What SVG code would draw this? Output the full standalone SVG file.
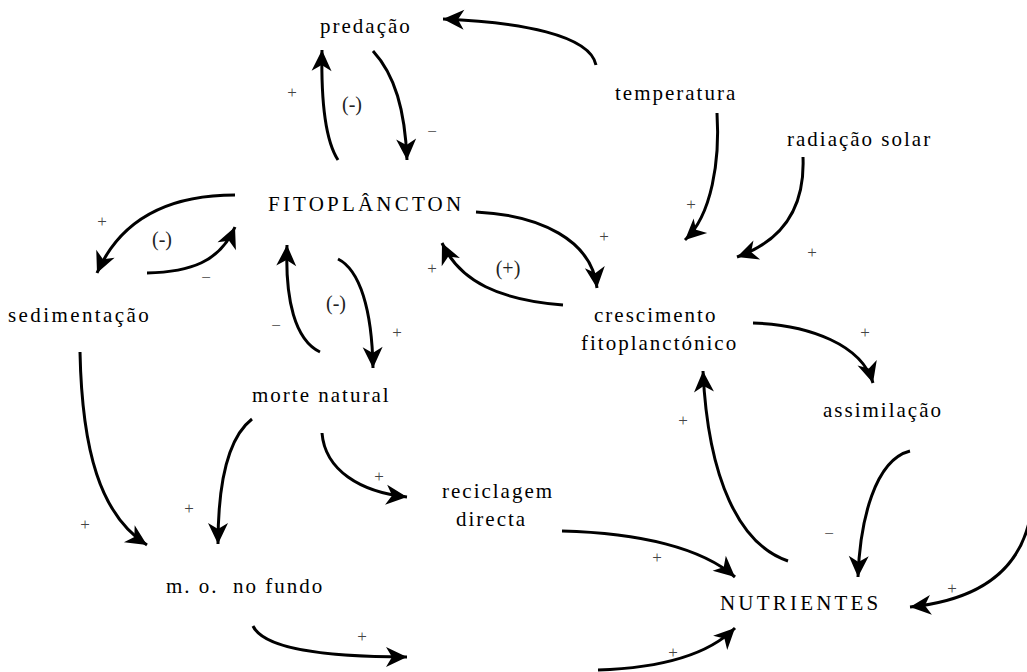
<svg xmlns="http://www.w3.org/2000/svg" width="1027" height="672" viewBox="0 0 1027 672">
<defs>
<marker id="ah" markerUnits="userSpaceOnUse" markerWidth="28" markerHeight="24" viewBox="-24 -12 28 24" refX="0" refY="0" orient="auto">
<path d="M0,0 L-21,-10 L-15,0 L-21,10 Z" fill="#000"/>
</marker>
</defs>
<style>
text{font-family:'Liberation Serif','DejaVu Serif',serif}
.n{font-size:21px;letter-spacing:2px;fill:#000;white-space:pre}
.u{letter-spacing:3.2px}
.l{font-size:17px;fill:#444}
.p{font-size:20px;fill:#222}
.c{fill:none;stroke:#000;stroke-width:3;marker-end:url(#ah)}
</style>
<rect width="1027" height="672" fill="#fff"/>
<g id="connectors">
<path class="c" d="M596,65 C590,35 520,22 443,19"/>
<path class="c" d="M338,160 C325,140 321,100 322,50"/>
<path class="c" d="M373,51 C395,75 405,110 407,160"/>
<path class="c" d="M717,113 C720,160 712,215 685,240"/>
<path class="c" d="M803,157 C805,205 785,240 737,257"/>
<path class="c" d="M476,212 C540,215 592,240 597,288"/>
<path class="c" d="M563,305 C500,300 460,282 442,243"/>
<path class="c" d="M235,195 C160,195 118,225 97,273"/>
<path class="c" d="M147,273 C190,272 220,262 235,227"/>
<path class="c" d="M320,352 C295,340 285,300 287,245"/>
<path class="c" d="M338,259 C360,270 372,310 373,368"/>
<path class="c" d="M753,323 C810,325 862,345 873,383"/>
<path class="c" d="M80,352 C82,450 100,515 147,545"/>
<path class="c" d="M252,419 C225,440 218,490 218,544"/>
<path class="c" d="M322,433 C325,470 360,492 407,497"/>
<path class="c" d="M253,626 C265,652 340,657 407,657"/>
<path class="c" d="M598,670 C660,668 708,655 735,628"/>
<path class="c" d="M562,531 C640,533 702,548 735,577"/>
<path class="c" d="M788,561 C740,545 708,480 703,371"/>
<path class="c" d="M910,451 C875,460 860,520 858,577"/>
<path class="c" d="M1032,505 C1025,570 980,600 910,607"/>
</g>
<g id="predacao"><text class="n" x="320" y="33">predação</text></g>
<g id="temperatura"><text class="n" x="615" y="100">temperatura</text></g>
<g id="radiacao"><text class="n" x="787" y="146">radiação solar</text></g>
<g id="fitoplancton"><text class="n u" x="268" y="211">FITOPLÂNCTON</text></g>
<g id="sedimentacao"><text class="n" x="8" y="322" style="letter-spacing:2.4px">sedimentação</text></g>
<g id="crescimento"><text class="n" x="594" y="322">crescimento</text><text class="n" x="581" y="350">fitoplanctónico</text></g>
<g id="assimilacao"><text class="n" x="823" y="417">assimilação</text></g>
<g id="morte"><text class="n" x="252" y="402">morte natural</text></g>
<g id="reciclagem"><text class="n" x="442" y="498">reciclagem</text><text class="n" x="456" y="526">directa</text></g>
<g id="mofundo"><text class="n" x="166" y="593" xml:space="preserve">m. o.  no fundo</text></g>
<g id="nutrientes"><text class="n u" x="720" y="610">NUTRIENTES</text></g>
<g id="labels">
<text class="l" x="292" y="98" text-anchor="middle">+</text>
<text class="p" x="352" y="111" text-anchor="middle">(-)</text>
<text class="l" x="432" y="137" text-anchor="middle">−</text>
<text class="l" x="102" y="227" text-anchor="middle">+</text>
<text class="p" x="162" y="246" text-anchor="middle">(-)</text>
<text class="l" x="206" y="283" text-anchor="middle">−</text>
<text class="l" x="276" y="331" text-anchor="middle">−</text>
<text class="p" x="336" y="310" text-anchor="middle">(-)</text>
<text class="l" x="397" y="338" text-anchor="middle">+</text>
<text class="l" x="432" y="274" text-anchor="middle">+</text>
<text class="p" x="508" y="275" text-anchor="middle">(+)</text>
<text class="l" x="691" y="210" text-anchor="middle">+</text>
<text class="l" x="604" y="242" text-anchor="middle">+</text>
<text class="l" x="812" y="258" text-anchor="middle">+</text>
<text class="l" x="865" y="338" text-anchor="middle">+</text>
<text class="l" x="683" y="426" text-anchor="middle">+</text>
<text class="l" x="85" y="530" text-anchor="middle">+</text>
<text class="l" x="189" y="514" text-anchor="middle">+</text>
<text class="l" x="379" y="482" text-anchor="middle">+</text>
<text class="l" x="362" y="642" text-anchor="middle">+</text>
<text class="l" x="657" y="563" text-anchor="middle">+</text>
<text class="l" x="829" y="539" text-anchor="middle">−</text>
<text class="l" x="952" y="594" text-anchor="middle">+</text>
<text class="l" x="673" y="658" text-anchor="middle">+</text>
</g>
</svg>
